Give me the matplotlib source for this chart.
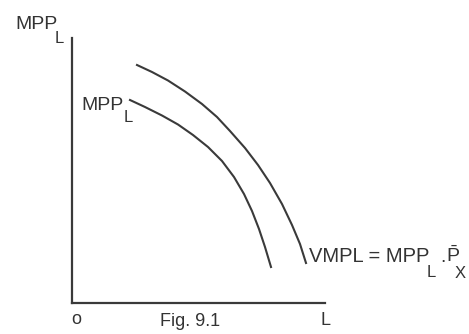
import matplotlib
matplotlib.use("Agg")
import matplotlib.pyplot as plt

# curves (origin at the axis corner, pixel-like units)
vmpl_x = [65, 80, 96, 113, 130, 145, 158, 173, 186, 198, 210, 220, 228, 234]
vmpl_y = [238, 231, 222.5, 211.5, 199, 186, 172, 155, 138, 120, 99, 78, 59, 40]
mpp_x = [58, 73, 90, 106, 121, 136, 150, 162, 172, 180, 187, 193, 199]
mpp_y = [203, 196, 187.5, 178.5, 168, 156, 142, 126, 109, 92, 74, 56, 36]

plt.rcParams["font.family"] = ["Liberation Sans", "DejaVu Sans"]
plt.rcParams["mathtext.fontset"] = "custom"
plt.rcParams["mathtext.rm"] = "Liberation Sans"

W, H = 469, 334
INK = "#333333"
fig = plt.figure(figsize=(W / 100, H / 100), dpi=100)

# main axes: corner at (72, 303) px, top of y axis at 38 px, end of x axis at 325 px
ax = fig.add_axes([72 / W, (H - 303) / H, (325 - 72) / W, (303 - 38) / H])
ax.set_xlim(0, 253)
ax.set_ylim(0, 265)
for s in ["top", "right"]:
    ax.spines[s].set_visible(False)
for s in ["left", "bottom"]:
    ax.spines[s].set_linewidth(1.6)
    ax.spines[s].set_color("#3a3a3a")
ax.set_xticks([])
ax.set_yticks([])
ax.patch.set_alpha(0)

ax.plot(vmpl_x, vmpl_y, color="#3a3a3a", lw=1.5, solid_joinstyle="round")
ax.plot(mpp_x, mpp_y, color="#3a3a3a", lw=1.5, solid_joinstyle="round")

# overlay for labels, in pixel coordinates of the picture
t = fig.add_axes([0, 0, 1, 1])
t.set_xlim(0, W)
t.set_ylim(H, 0)
t.axis("off")
t.patch.set_alpha(0)

kw = dict(color=INK, fontsize=14, va="baseline", ha="left")
sub = dict(color=INK, fontsize=12, va="baseline", ha="left")
t.text(15, 29, "MPP", **kw)
t.text(55, 43, "L", **sub)
t.text(81, 110, "MPP", **kw)
t.text(124, 122, "L", **sub)
t.text(309, 262, "VMPL = MPP", color=INK, fontsize=14.5, va="baseline")
t.text(427, 277, "L", **sub)
t.text(440, 262, ".", **kw)
t.text(446, 262, r"$\bar{\mathrm{P}}$", **kw)
t.text(455, 278, "X", **sub)
t.text(76, 324, "o", color=INK, fontsize=13, ha="center", va="baseline")
t.text(160, 326, "Fig. 9.1", color=INK, fontsize=13, va="baseline")
t.text(320, 325, "L", color=INK, fontsize=13, va="baseline")

fig.savefig("out.png", dpi=100, facecolor="white")
